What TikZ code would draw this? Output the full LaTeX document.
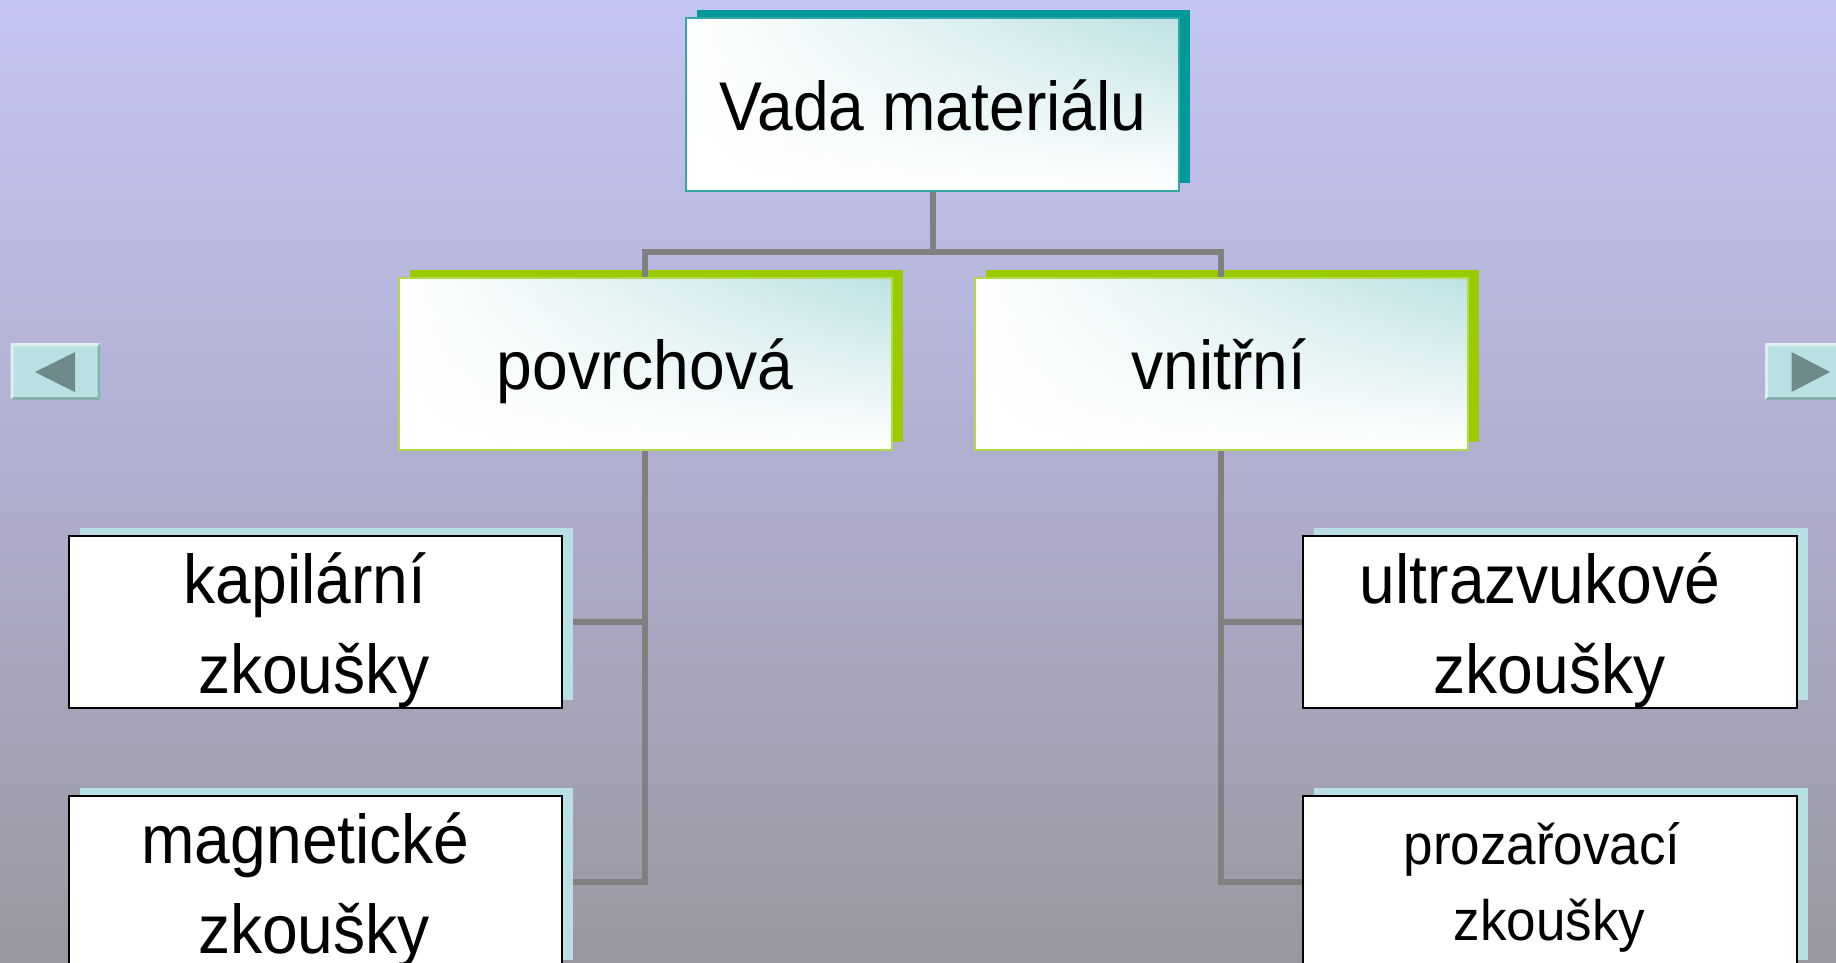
\documentclass[tikz,border=0pt]{standalone}
\usepackage{fontspec}
\setmainfont{Liberation Sans}
\newfontfamily\boxfont[FakeStretch=0.93]{Liberation Sans}
\usetikzlibrary{shadows,shadings}
\definecolor{bgtop}{RGB}{197,197,244}
\definecolor{bgmid}{RGB}{176,174,206}
\definecolor{bgbot}{RGB}{153,152,160}
\definecolor{tealsh}{RGB}{0,153,153}
\definecolor{tealbd}{RGB}{51,166,166}
\definecolor{greensh}{RGB}{153,204,0}
\definecolor{greenbd}{RGB}{178,217,76}
\definecolor{lbsh}{RGB}{184,224,228}
\definecolor{gradtl}{RGB}{189,225,227}
\definecolor{conn}{RGB}{128,128,128}
\definecolor{btnfill}{RGB}{185,224,227}
\definecolor{btnhi}{RGB}{221,240,240}
\definecolor{btndk}{RGB}{138,175,175}
\definecolor{btntri}{RGB}{111,138,138}
\tikzset{
  box/.style={rectangle, inner sep=0pt, minimum width=493pt, minimum height=172pt},
  topbox/.style={box, draw=tealbd, line width=2pt, upper right=gradtl, upper left=white, lower left=white, lower right=white,
    general shadow={shadow xshift=11pt, shadow yshift=8pt, fill=tealsh}},
  midbox/.style={box, draw=greenbd, line width=2pt, upper right=gradtl, upper left=white, lower left=white, lower right=white,
    general shadow={shadow xshift=11pt, shadow yshift=8pt, fill=greensh}},
  lowbox/.style={box, draw=black, line width=2pt, fill=white,
    general shadow={shadow xshift=11pt, shadow yshift=8pt, fill=lbsh}},
  connline/.style={draw=conn, line width=6pt},
  txt/.style={anchor=base, inner sep=0pt, font=\boxfont\fontsize{69}{80}\selectfont},
  smalltxt/.style={anchor=base, inner sep=0pt, font=\boxfont\fontsize{57}{66}\selectfont},
}
\begin{document}
\begin{tikzpicture}[x=1pt, y=-1pt]
\useasboundingbox (0,0) rectangle (1836,963);
\shade[top color=bgtop, bottom color=bgbot, middle color=bgmid] (0,0) rectangle (1836,963);

% nodes (boxes)
\coordinate (hb) at (0,252);
\node[topbox] (vada) at (932.5,104.5) {};
\node[midbox] (povrch) at (645,363.5) {};
\node[midbox] (vnitr) at (1221,363.5) {};

% connectors drawn before the lower boxes
\draw[connline] (vada.south) -- (vada.south |- hb);
\draw[connline] (povrch.north) -- (povrch.north |- hb) -| (vnitr.north);
\draw[connline] (povrch.south) |- (315.5,622) coordinate (kapE);
\draw[connline] (povrch.south) |- (315.5,882) coordinate (magE);
\draw[connline] (vnitr.south) |- (1550,622) coordinate (ultW);
\draw[connline] (vnitr.south) |- (1550,882) coordinate (proW);

\node[lowbox] (kap) at (kapE) {};
\node[lowbox] (mag) at (magE) {};
\node[lowbox, minimum width=494pt] (ultra) at (ultW) {};
\node[lowbox, minimum width=494pt] (proz) at (proW) {};

% texts
\node[txt] (t1) at (933,131) {Vada materiálu};
\node[txt] (t2) at (645,389) {povrchová};
\node[txt] (t3) at (1219,389) {vnitřní};
\node[txt] (t4) at (305,603) {kapilární};
\node[txt] (t5) at (314,693) {zkoušky};
\node[txt] (t6) at (305.6,863) {magnetické};
\node[txt] (t7) at (314,953) {zkoušky};
\node[txt] (t8) at (1540,603) {ultrazvukové};
\node[txt] (t9) at (1549.7,693) {zkoušky};
\node[smalltxt] (t10) at (1542,864) {prozařovací};
\node[smalltxt] (t11) at (1549.7,940) {zkoušky};

% navigation buttons
\fill[btnfill] (10.5,343) rectangle (100.7,400);
\fill[btnhi] (10.5,343) -- (100.7,343) -- (97.5,346) -- (13.5,346) -- (13.5,397) -- (10.5,400) -- cycle;
\fill[btndk] (100.7,343) -- (100.7,400) -- (10.5,400) -- (13.5,397) -- (97.5,397) -- (97.5,346) -- cycle;
\fill[btntri] (35,372) -- (75,352) -- (75,392) -- cycle;

\fill[btnfill] (1765,343) rectangle (1840,400);
\fill[btnhi] (1765,343) -- (1840,343) -- (1840,346) -- (1768,346) -- (1768,397) -- (1765,400) -- cycle;
\fill[btndk] (1765,400) -- (1768,397) -- (1840,397) -- (1840,400) -- cycle;
\fill[btntri] (1791.5,352) -- (1830,372) -- (1791.5,392) -- cycle;
\end{tikzpicture}
\end{document}
